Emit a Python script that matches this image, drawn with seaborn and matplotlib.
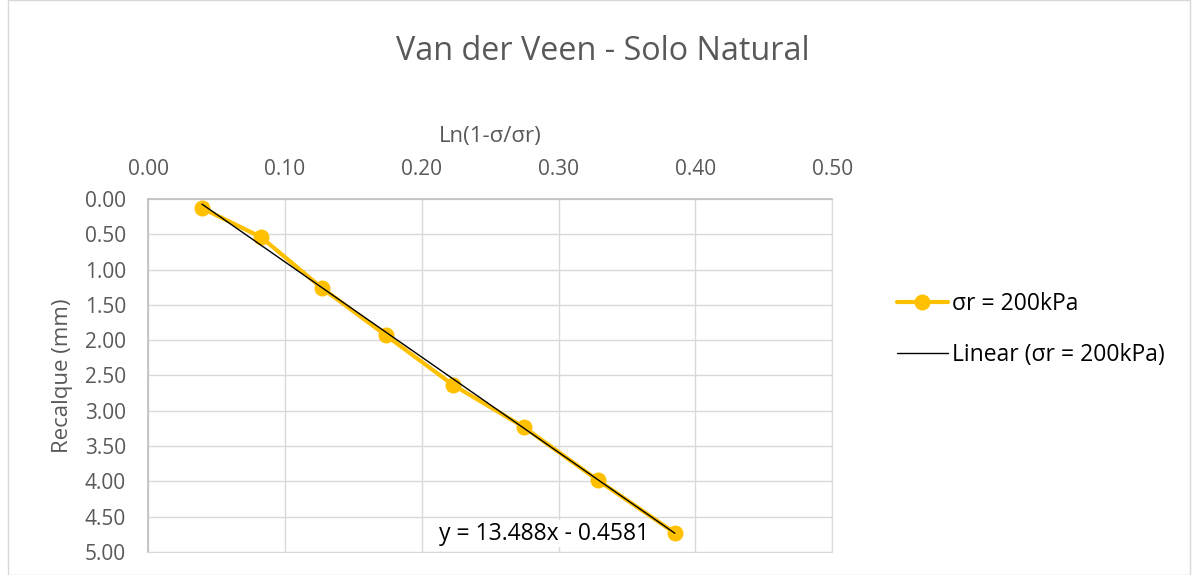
import matplotlib
matplotlib.use("Agg")
import matplotlib.pyplot as plt
import seaborn as sns
import numpy as np
import pandas as pd

# Data
ln_ratio = [0.0394, 0.0825, 0.127, 0.1737, 0.2226, 0.2745, 0.3285, 0.385]
recalque = [0.13, 0.54, 1.26, 1.93, 2.63, 3.23, 3.98, 4.73]
series_label = "σr = 200kPa"
trend_label = "Linear (σr = 200kPa)"
slope = 13.488
intercept = -0.4581
eq_text = "y = 13.488x - 0.4581"
title = "Van der Veen - Solo Natural"
xlabel = "Ln(1-σ/σr)"
ylabel = "Recalque (mm)"
xticks = [0.0, 0.1, 0.2, 0.3, 0.4, 0.5]
yticks = [0.0, 0.5, 1.0, 1.5, 2.0, 2.5, 3.0, 3.5, 4.0, 4.5, 5.0]

sns.set_style("white")
plt.rcParams['font.family'] = ['Open Sans', 'DejaVu Sans']

df = pd.DataFrame({"x": ln_ratio, "y": recalque})

fig = plt.figure(figsize=(11.94, 5.75), dpi=100)
ax = fig.add_axes([0.124, 0.04, 0.573, 0.614])

sns.lineplot(data=df, x="x", y="y", sort=False, ax=ax, color="#FFC000",
             linewidth=3, marker="o", markersize=11.5, markeredgewidth=0,
             label=series_label, zorder=3)

xs = np.array([min(ln_ratio), max(ln_ratio)])
ax.plot(xs, slope * xs + intercept, color="black", linewidth=1, label=trend_label, zorder=4)

ax.set_xlim(0, 0.5)
ax.set_ylim(5, 0)
ax.set_xticks(xticks)
ax.set_yticks(yticks)
ax.set_xticklabels([f"{t:.2f}" for t in xticks])
ax.set_yticklabels([f"{t:.2f}" for t in yticks])
ax.xaxis.tick_top()
ax.xaxis.set_label_position("top")
ax.tick_params(axis="both", length=0, labelsize=15, colors="#595959")
ax.tick_params(axis="x", pad=14)
ax.tick_params(axis="y", pad=16)
ax.set_xlabel(xlabel, fontsize=16, color="#595959", labelpad=12)
ax.set_ylabel(ylabel, fontsize=16, color="#595959", labelpad=8)
ax.grid(True, color="#d9d9d9", linewidth=1)
for side in ["bottom", "right"]:
    ax.spines[side].set_color("#d9d9d9")
for side in ["top", "left"]:
    ax.spines[side].set_color("#bfbfbf")
    ax.spines[side].set_linewidth(1.2)

ax.text(0.289, 4.74, eq_text, fontsize=16.5, color="black", ha="center", va="center",
        bbox=dict(facecolor="white", edgecolor="none", pad=1), zorder=2)

fig.suptitle(title, fontsize=23.3, color="#595959", y=0.91, x=0.505, va="center")

leg = ax.legend(loc="center left", bbox_to_anchor=(1.095, 0.63), frameon=False,
                fontsize=16.5, handlelength=2.2, handletextpad=0.2, labelspacing=1.15,
                borderaxespad=0, borderpad=0)
for t in leg.get_texts():
    t.set_color("black")

border = plt.Rectangle((0.007, 0.0), 0.99, 1.0, transform=fig.transFigure,
                       fill=False, edgecolor="#d9d9d9", linewidth=1)
fig.add_artist(border)

fig.savefig("out.png", dpi=100, facecolor="white")
